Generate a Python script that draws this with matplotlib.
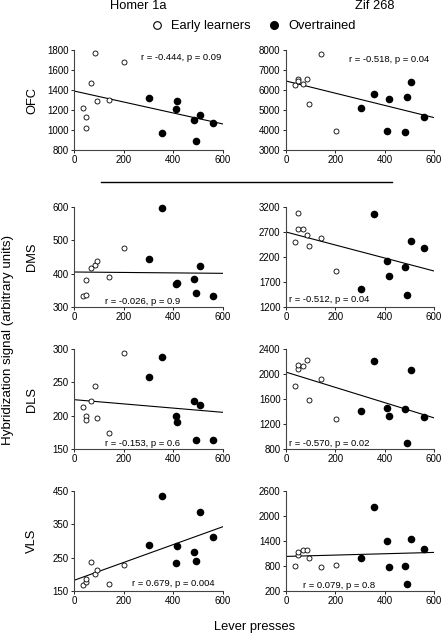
import matplotlib
matplotlib.use("Agg")
import matplotlib.pyplot as plt
from matplotlib.lines import Line2D

plt.rcParams["font.family"] = ["Liberation Sans", "DejaVu Sans"]
plt.rcParams.update(
    {
        "font.size": 7,
        "xtick.labelsize": 7,
        "ytick.labelsize": 7,
        "axes.linewidth": 0.8,
    }
)

# lever presses per animal (same animals in every panel)
early_x = [36, 50, 50, 67, 86, 94, 141, 201]
over_x = [303, 355, 411, 416, 483, 491, 506, 559]

# hybridization signal, [early learners], [overtrained]
ofc_homer = ([1217, 1133, 1017, 1473, 1773, 1290, 1297, 1677],
             [1323, 970, 1207, 1293, 1103, 887, 1147, 1070])
ofc_zif = ([6272, 6574, 6440, 6322, 6574, 5299, 7799, 3940],
           [5081, 5819, 3973, 5550, 3906, 5634, 6423, 4661])
dms_homer = ([333, 336, 380, 416, 425, 439, 391, 477],
             [444, 596, 368, 373, 383, 343, 422, 334])
dms_zif = ([2507, 2756, 3089, 2756, 2638, 2422, 2573, 1912],
           [1553, 3056, 2115, 1827, 2004, 1442, 2520, 2376])
dls_homer = ([213, 200, 194, 222, 245, 196, 174, 294],
             [258, 288, 200, 190, 222, 164, 216, 164])
dls_zif = ([1801, 2077, 2146, 2130, 2225, 1579, 1923, 1287],
           [1404, 2204, 1457, 1325, 1446, 895, 2061, 1309])
vls_homer = ([169, 176, 186, 238, 202, 214, 171, 229],
             [288, 436, 233, 286, 268, 240, 387, 311])
vls_zif = ([796, 1062, 1126, 1183, 1183, 989, 788, 820],
           [981, 2205, 1400, 780, 812, 377, 1448, 1207])

# regression line value at 0 and 600 lever presses
fit_ends = [(1390, 1060), (6450, 4620), (405, 401), (2700, 1920),
            (224, 205), (2030, 1298), (182, 343), (1030, 1126)]

stats = ["r = -0.444, p = 0.09", "r = -0.518, p = 0.04",
         "r = -0.026, p = 0.9", "r = -0.512, p = 0.04",
         "r = -0.153, p = 0.6", "r = -0.570, p = 0.02",
         "r = 0.679, p = 0.004", "r = 0.079, p = 0.8"]

y_ticks = [
    [800, 1000, 1200, 1400, 1600, 1800],
    [3000, 4000, 5000, 6000, 7000, 8000],
    [300, 400, 500, 600],
    [1200, 1700, 2200, 2700, 3200],
    [150, 200, 250, 300],
    [800, 1200, 1600, 2000, 2400],
    [150, 250, 350, 450],
    [200, 800, 1400, 2000, 2600],
]
x_ticks = [0, 200, 400, 600]
regions = ["OFC", "DMS", "DLS", "VLS"]
genes = ["Homer 1a", "Zif 268"]

panels = [ofc_homer, ofc_zif, dms_homer, dms_zif,
          dls_homer, dls_zif, vls_homer, vls_zif]

W, H = 444, 634
fig = plt.figure(figsize=(W / 100, H / 100), dpi=100)

col_x = [(74, 149), (286, 148)]
row_y = [(50, 150), (207, 307), (349, 449), (491, 591)]
# text anchor (axes fraction) and alignment for the r/p label
stat_pos = [
    (0.99, 0.97, "right", "top"), (0.97, 0.95, "right", "top"),
    (0.21, 0.05, "left", "center"), (0.02, 0.07, "left", "center"),
    (0.21, 0.06, "left", "center"), (0.02, 0.06, "left", "center"),
    (0.39, 0.07, "left", "center"), (0.115, 0.06, "left", "center"),
]

for i, data in enumerate(panels):
    r, c = divmod(i, 2)
    x0, w = col_x[c]
    top, bot = row_y[r]
    ax = fig.add_axes([x0 / W, 1 - bot / H, w / W, (bot - top) / H])

    early, over = data
    ax.scatter(early_x, early, s=13, facecolors="white",
               edgecolors="black", linewidths=0.6, zorder=3, clip_on=False)
    ax.scatter(over_x, over, s=20, color="black", zorder=3, clip_on=False)
    ax.plot([0, 600], fit_ends[i], color="black", linewidth=0.8, zorder=2)

    ax.set_xlim(0, 600)
    ax.set_ylim(y_ticks[i][0], y_ticks[i][-1])
    ax.set_xticks(x_ticks)
    ax.set_yticks(y_ticks[i])
    ax.tick_params(length=2.5, width=0.6, pad=1.5, colors="black")
    ax.tick_params(axis="x", pad=1)
    for side in ["top", "right"]:
        ax.spines[side].set_visible(False)
    for side in ["left", "bottom"]:
        ax.spines[side].set_color("#444444")

    tx, ty, ha, va = stat_pos[i]
    ax.text(tx, ty, stats[i], transform=ax.transAxes, ha=ha, va=va,
            fontsize=6.8)

# column titles
fig.text(138 / W, 1 - 6 / H, genes[0], ha="center", va="center", fontsize=9.3)
fig.text(375 / W, 1 - 6 / H, genes[1], ha="center", va="center", fontsize=9.3)

# legend
handles = [
    Line2D([], [], marker="o", linestyle="none", markersize=5.5,
           markerfacecolor="white", markeredgecolor="black",
           markeredgewidth=0.8),
    Line2D([], [], marker="o", linestyle="none", markersize=5.5,
           color="black"),
]
fig.legend(handles, ["Early learners", "Overtrained"], loc="center",
           bbox_to_anchor=(253 / W, 1 - 26 / H), ncol=2, frameon=False,
           fontsize=9.3, handlelength=1.0, handletextpad=0.6,
           columnspacing=1.3, borderpad=0)

# row labels
row_centers = [100, 257, 399, 541]
for name, yc in zip(regions, row_centers):
    fig.text(32 / W, 1 - yc / H, name, rotation=90, ha="center",
             va="center", fontsize=9.3)

fig.text(8 / W, 1 - 340 / H, "Hybridization signal (arbitrary units)",
         rotation=90, ha="center", va="center", fontsize=9.6)
fig.text(255 / W, 1 - 627 / H, "Lever presses", ha="center", va="center",
         fontsize=9.3)

# separator between OFC and striatal panels
fig.add_artist(Line2D([101 / W, 392 / W], [1 - 182 / H, 1 - 182 / H],
                      color="black", linewidth=1.0))

fig.savefig("out.png", dpi=100)
